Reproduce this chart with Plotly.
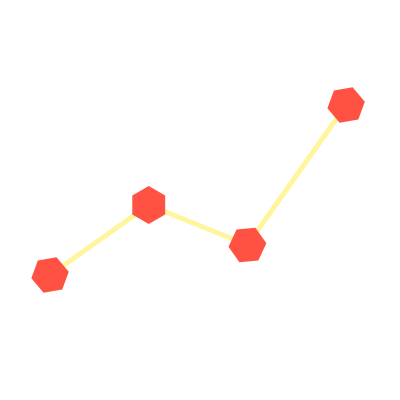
import plotly.graph_objects as go

# Données du graphique
categories = [0, 1, 2, 3]
values = [10, 17, 13, 27]
marker_angles = [20, 0, 25, 20]

LINE_COLOR = '#FFF59D'
MARKER_COLOR = '#FF5242'

fig = go.Figure()

fig.add_trace(
    go.Scatter(
        x=categories,
        y=values,
        mode='lines+markers',
        line=dict(color=LINE_COLOR, width=5),
        marker=dict(
            symbol='hexagon',
            size=38,
            color=MARKER_COLOR,
            angle=marker_angles,
            line=dict(width=0)
        ),
        showlegend=False
    )
)

fig.update_xaxes(visible=False, range=[-0.426, 3.627])
fig.update_yaxes(visible=False, range=[-3.3, 36.7])

fig.update_layout(
    width=400,
    height=400,
    margin=dict(l=0, r=0, t=0, b=0),
    paper_bgcolor='white',
    plot_bgcolor='white'
)

fig.write_html("out.html")
